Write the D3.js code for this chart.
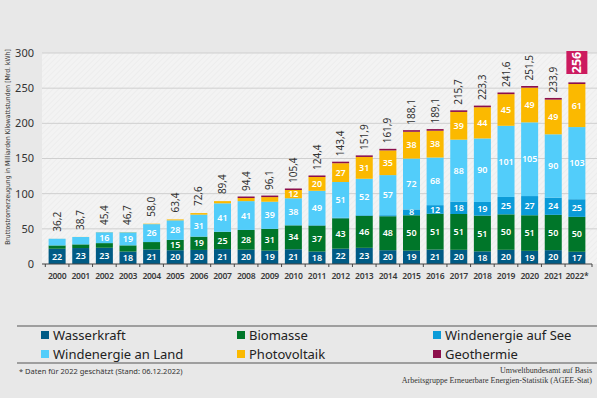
<!DOCTYPE html>
<meta charset="utf-8">
<style>
  body { margin: 0; background: #e8e8e8; }
  svg { display: block; font-family: "Noto Sans", "Open Sans", sans-serif; }
  .grid line { stroke: #cfcfcf; }
  .seg-label { fill: #fff; font-size: 9px; font-weight: 600; text-anchor: middle; }
  .total { fill: #333; font-size: 10px; }
  .narrow { font-family: "Liberation Sans Narrow", "DejaVu Sans Condensed", sans-serif; }
</style>
<body>
<div id="chart"></div>
<script src="https://d3js.org/d3.v7.min.js"></script>
<script>
// years and values (Mrd. kWh)
var years = ["2000","2001","2002","2003","2004","2005","2006","2007","2008","2009","2010","2011",
             "2012","2013","2014","2015","2016","2017","2018","2019","2020","2021","2022*"];
var wasserkraft = [21.7,22.7,23.1,17.7,20.7,19.6,20.0,21.2,20.4,19.0,21.0,17.7,21.8,23.0,19.6,19.0,20.5,20.2,18.0,20.2,18.7,19.7,17.4];
var biomasse = [4.7,5.2,6.6,8.8,10.5,14.7,18.9,24.6,28.0,30.9,33.9,36.9,43.2,45.5,48.3,50.3,50.9,50.9,50.8,50.4,50.6,50.2,49.6];
var windSee = [0,0,0,0,0,0,0,0,0,0.04,0.2,0.6,0.7,0.9,1.5,8.3,12.3,17.7,19.4,24.7,27.3,24.4,25.1];
var windLand = [9.5,10.5,15.5,18.6,25.5,27.8,31.3,40.5,41.0,38.6,38.4,48.9,50.9,51.8,57.0,72.3,67.7,88.0,90.3,101.2,104.8,90.1,102.6];
var photovoltaik = [0.06,0.1,0.2,0.3,0.6,1.3,2.2,3.1,4.4,6.6,11.7,19.6,26.7,31.0,35.1,38.1,38.1,39.4,44.4,45.0,49.3,49.3,61.2];
var geothermie = [0,0,0,0,0,0,0,0,0.02,0.02,0.03,0.02,0.03,0.08,0.1,0.13,0.18,0.16,0.18,0.2,0.23,0.25,0.2];
var totals = ["36,2","38,7","45,4","46,7","58,0","63,4","72,6","89,4","94,4","96,1","105,4","124,4",
              "143,4","151,9","161,9","188,1","189,1","215,7","223,3","241,6","251,5","233,9","256"];
var yTicks = [0, 50, 100, 150, 200, 250, 300];

var series = [
  {name: "Wasserkraft", values: wasserkraft, color: "#005b85", minLabel: 11},
  {name: "Biomasse", values: biomasse, color: "#007629", minLabel: 11},
  {name: "Windenergie auf See", values: windSee, color: "#0b9bd8", minLabel: 5},
  {name: "Windenergie an Land", values: windLand, color: "#52cdfa", minLabel: 11},
  {name: "Photovoltaik", values: photovoltaik, color: "#fbb900", minLabel: 11},
  {name: "Geothermie", values: geothermie, color: "#8c0f4b", minLabel: 999}
];
// legend order (3 columns, 2 rows)
var legendOrder = ["Wasserkraft", "Biomasse", "Windenergie auf See", "Windenergie an Land", "Photovoltaik", "Geothermie"];

var width = 597, height = 398;

var svg = d3.select("#chart").append("svg")
    .attr("width", width)
    .attr("height", height);

var x = d3.scaleBand()
    .domain(years)
    .range([42, 592])
    .padding(0.28);

var y = d3.scaleLinear()
    .domain([0, 300])
    .range([264, 53]);

// hatched plot background
var defs = svg.append("defs");
var pat = defs.append("pattern")
    .attr("id", "hatch")
    .attr("width", 4).attr("height", 4)
    .attr("patternUnits", "userSpaceOnUse")
    .attr("patternTransform", "rotate(45)");
pat.append("rect").attr("width", 4).attr("height", 4).attr("fill", "#f3f3f3");
pat.append("line").attr("x1", 0).attr("y1", 0).attr("x2", 0).attr("y2", 4)
    .attr("stroke", "#ebebeb").attr("stroke-width", 1.5);

svg.append("rect")
    .attr("x", 42).attr("y", y(300))
    .attr("width", width - 42).attr("height", y(0) - y(300))
    .attr("fill", "url(#hatch)");

// gridlines
svg.append("g").attr("class", "grid")
  .selectAll("line")
    .data(yTicks.slice(1))
  .enter().append("line")
    .attr("x1", 42).attr("x2", width)
    .attr("y1", function(d) { return y(d); })
    .attr("y2", function(d) { return y(d); });

// y axis labels
svg.append("g")
  .selectAll("text")
    .data(yTicks)
  .enter().append("text")
    .attr("x", 34)
    .attr("y", function(d) { return y(d); })
    .attr("dy", "0.35em")
    .attr("text-anchor", "end")
    .style("font-size", "11px")
    .style("fill", "#333")
    .text(function(d) { return d; });

// y title
svg.append("text")
    .attr("class", "narrow")
    .attr("transform", "translate(10,147) rotate(-90)")
    .attr("text-anchor", "middle")
    .style("font-size", "6.8px")
    .style("fill", "#333")
    .text("Bruttostromerzeugung in Milliarden Kilowattstunden [Mrd. kWh]");

// stack
var rows = years.map(function(yr, i) {
  var r = {year: yr};
  series.forEach(function(s) { r[s.name] = s.values[i]; });
  return r;
});
var stack = d3.stack().keys(series.map(function(s) { return s.name; }));
var stacked = stack(rows);

var layers = svg.append("g").selectAll("g")
    .data(stacked)
  .enter().append("g")
    .attr("fill", function(d, i) { return series[i].color; });

layers.selectAll("rect")
    .data(function(d) { return d; })
  .enter().append("rect")
    .attr("x", function(d) { return x(d.data.year); })
    .attr("width", x.bandwidth())
    .attr("y", function(d) {
      var key = d3.select(this.parentNode).datum().key;
      if (key === "Geothermie" && d[1] > d[0]) return y(d[1]) - 1.5;
      return y(d[1]);
    })
    .attr("height", function(d) {
      var key = d3.select(this.parentNode).datum().key;
      if (key === "Geothermie" && d[1] > d[0]) return 1.5 + (y(d[0]) - y(d[1]));
      return Math.max(0, y(d[0]) - y(d[1]));
    });

// segment labels
layers.each(function(layer, i) {
  var s = series[i];
  d3.select(this).selectAll("text")
      .data(layer.filter(function(d) { return d[1] - d[0] >= s.minLabel; }))
    .enter().append("text")
      .attr("class", "seg-label")
      .attr("x", function(d) { return x(d.data.year) + x.bandwidth() / 2; })
      .attr("y", function(d) { return (y(d[0]) + y(d[1])) / 2; })
      .attr("dy", "0.35em")
      .text(function(d) { return Math.round(d[1] - d[0]); });
});

// x axis
svg.append("line")
    .attr("x1", 42).attr("x2", 592)
    .attr("y1", y(0)).attr("y2", y(0))
    .attr("stroke", "#444").attr("stroke-width", 1.2);

var bounds = years.map(function(yr) { return x(yr) - x.step() * x.paddingInner() / 2; });
bounds.push(592);
svg.append("g").selectAll("line")
    .data(bounds)
  .enter().append("line")
    .attr("x1", function(d) { return d; }).attr("x2", function(d) { return d; })
    .attr("y1", y(0)).attr("y2", y(0) + 3)
    .attr("stroke", "#444");

svg.append("g").selectAll("text")
    .data(years)
  .enter().append("text")
    .attr("x", function(d) { return x(d) + x.bandwidth() / 2; })
    .attr("y", 279)
    .attr("text-anchor", "middle")
    .style("font-size", "8.6px")
    .style("font-weight", "600")
    .style("letter-spacing", "-0.3px")
    .style("fill", "#3a3a3a")
    .text(function(d) { return d; });

// totals
var topStack = stacked[stacked.length - 1];
svg.append("g").selectAll("text")
    .data(topStack.slice(0, years.length - 1))
  .enter().append("text")
    .attr("class", "total")
    .attr("transform", function(d) {
      return "translate(" + (x(d.data.year) + x.bandwidth() / 2 + 3.5) + "," + (y(d[1]) - 7) + ") rotate(-90)";
    })
    .text(function(d, i) { return totals[i]; });

// highlighted total for last year
var last = years.length - 1;
var lastX = x(years[last]) + x.bandwidth() / 2;
svg.append("rect")
    .attr("x", lastX - 10.5).attr("y", 51)
    .attr("width", 21).attr("height", 23)
    .attr("fill", "#cc1b5f");
svg.append("text")
    .attr("transform", "translate(" + (lastX + 4.5) + ",62.5) rotate(-90)")
    .attr("text-anchor", "middle")
    .style("font-size", "12.5px")
    .style("font-weight", "700")
    .style("fill", "#fff")
    .text(totals[last]);

// legend
svg.append("line").attr("x1", 17).attr("x2", width).attr("y1", 326).attr("y2", 326)
    .attr("stroke", "#555").attr("stroke-width", 1);
svg.append("line").attr("x1", 17).attr("x2", width).attr("y1", 363).attr("y2", 363)
    .attr("stroke", "#555").attr("stroke-width", 1);

var colX = [41, 237, 433];
var legend = svg.append("g").selectAll("g")
    .data(legendOrder)
  .enter().append("g")
    .attr("transform", function(d, i) {
      return "translate(" + colX[i % 3] + "," + (335 + Math.floor(i / 3) * 19) + ")";
    });
legend.append("rect")
    .attr("x", 0).attr("y", -4)
    .attr("width", 8).attr("height", 8)
    .attr("fill", function(d) { return series.find(function(s) { return s.name === d; }).color; });
legend.append("text")
    .attr("x", 12)
    .attr("dy", "0.35em")
    .style("font-size", "13px")
    .style("fill", "#222")
    .text(function(d) { return d; });

// footnote and source
svg.append("text")
    .attr("x", 19).attr("y", 374)
    .style("font-size", "7.5px")
    .style("fill", "#333")
    .text("* Daten für 2022 geschätzt (Stand: 06.12.2022)");

svg.append("text")
    .attr("x", 592).attr("y", 373)
    .attr("text-anchor", "end")
    .style("font-family", "'Liberation Serif', serif")
    .style("font-size", "8px")
    .style("fill", "#333")
    .text("Umweltbundesamt auf Basis");
svg.append("text")
    .attr("x", 592).attr("y", 383)
    .attr("text-anchor", "end")
    .style("font-family", "'Liberation Serif', serif")
    .style("font-size", "8px")
    .style("fill", "#333")
    .text("Arbeitsgruppe Erneuerbare Energien-Statistik (AGEE-Stat)");
</script>
</body>
